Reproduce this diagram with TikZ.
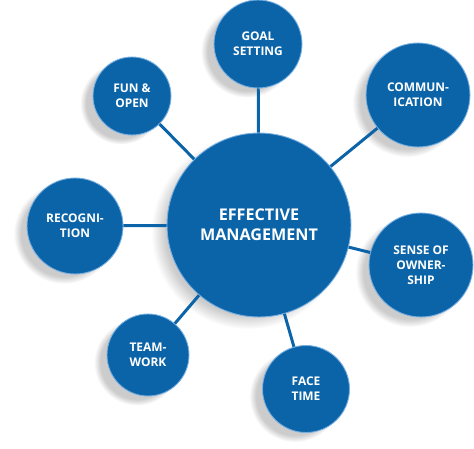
\documentclass[tikz,border=0pt]{standalone}
\usepackage{fontspec}
\setsansfont{Open Sans}
\usetikzlibrary{shadows}
\definecolor{mgblue}{RGB}{12,100,168}
\definecolor{mgrim}{RGB}{120,175,225}
\begin{document}
\begin{tikzpicture}[x=0.02cm,y=-0.02cm,
    bubble/.style={circle, fill=mgblue, draw=mgrim, line width=0.5pt, text=white,
      font=\sffamily\bfseries\fontsize{6.8}{8.6}\selectfont, align=center, inner sep=0pt,
      circular drop shadow={shadow xshift=-6pt, shadow yshift=-4pt, shadow scale=1.05, opacity=0.4}},
    hub/.style={bubble, font=\sffamily\bfseries\fontsize{9.2}{11.4}\selectfont},
    link/.style={mgblue, line width=1.7pt}]
    \useasboundingbox (0,0) rectangle (474,449);
    \node [hub, minimum size=3.68cm] (mgmt) at (259,225) {EFFECTIVE\\MANAGEMENT};
    \node [bubble, minimum size=1.76cm] (goal) at (258,44) {GOAL\\SETTING};
    \node [bubble, minimum size=2.08cm] (comm) at (418,95) {COMMUN-\\ICATION};
    \node [bubble, minimum size=1.56cm] (fun) at (132,96) {FUN \&\\OPEN};
    \node [bubble, minimum size=1.92cm] (recog) at (75,226) {RECOGNI-\\TION};
    \node [bubble, minimum size=2.08cm] (own) at (421,265) {SENSE OF\\OWNER-\\SHIP};
    \node [bubble, minimum size=1.64cm] (team) at (148,355) {TEAM-\\WORK};
    \node [bubble, minimum size=1.74cm] (face) at (306,389) {FACE\\TIME};
    \draw [link] (mgmt) -- (goal);
    \draw [link] (mgmt) -- (comm);
    \draw [link] (mgmt) -- (fun);
    \draw [link] (mgmt) -- (recog);
    \draw [link] (mgmt) -- (own);
    \draw [link] (mgmt) -- (team);
    \draw [link] (mgmt) -- (face);
\end{tikzpicture}
\end{document}
